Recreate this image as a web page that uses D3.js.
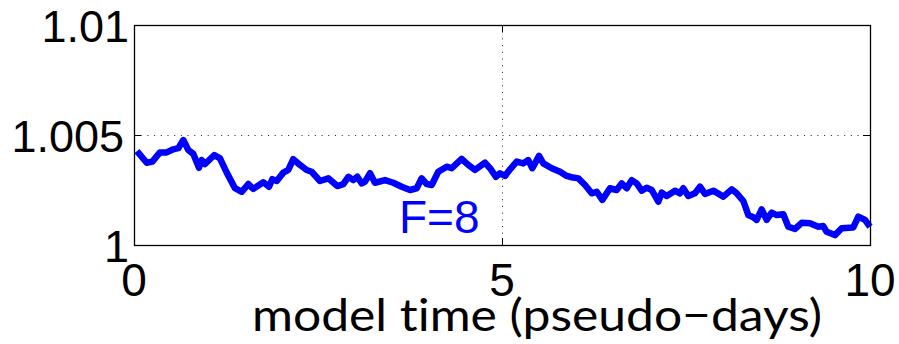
<!DOCTYPE html>
<html>
<head>
<meta charset="utf-8">
<script src="https://cdn.jsdelivr.net/npm/d3@7/dist/d3.min.js"></script>
<style>
  html, body { margin: 0; padding: 0; background: #fff; }
  svg { display: block; }
</style>
</head>
<body>
<svg id="chart" width="899" height="344"></svg>
<script>
// Model time (pseudo-days) and the normalised quantity for the F=8 run
const times = [
  0.04, 0.173, 0.249, 0.353, 0.444, 0.534, 0.602, 0.670, 0.738, 0.806,
  0.883, 0.920, 0.965, 1.091, 1.168, 1.260, 1.372, 1.463, 1.553, 1.621,
  1.757, 1.834, 1.879, 1.939, 2.029, 2.096, 2.164, 2.255, 2.346, 2.414,
  2.527, 2.640, 2.762, 2.844, 2.912, 2.980, 3.034, 3.094, 3.139, 3.207,
  3.274, 3.410, 3.523, 3.637, 3.750, 3.841, 3.909, 3.977, 4.045, 4.134,
  4.249, 4.317, 4.452, 4.542, 4.633, 4.769, 4.837, 4.918, 4.973, 5.041,
  5.109, 5.200, 5.289, 5.357, 5.412, 5.503, 5.561, 5.675, 5.788, 5.879,
  5.947, 6.037, 6.128, 6.219, 6.287, 6.363, 6.467, 6.558, 6.626, 6.694,
  6.762, 6.830, 6.898, 6.966, 7.034, 7.124, 7.170, 7.238, 7.351, 7.418,
  7.463, 7.531, 7.622, 7.690, 7.758, 7.871, 8.007, 8.121, 8.189, 8.279,
  8.347, 8.414, 8.460, 8.528, 8.596, 8.664, 8.732, 8.822, 8.890, 8.981,
  9.072, 9.185, 9.298, 9.365, 9.411, 9.524, 9.615, 9.773, 9.841, 9.932,
  10.0
];
const values = [
  1.00427, 1.00374, 1.00379, 1.00421, 1.00421, 1.00435, 1.00440, 1.00477, 1.00432, 1.00414,
  1.00351, 1.00386, 1.00368, 1.00409, 1.00394, 1.00329, 1.00258, 1.00242, 1.00277, 1.00255,
  1.00285, 1.00265, 1.00299, 1.00291, 1.00329, 1.00341, 1.00390, 1.00364, 1.00341, 1.00333,
  1.00291, 1.00303, 1.00268, 1.00277, 1.00310, 1.00295, 1.00310, 1.00280, 1.00288, 1.00326,
  1.00283, 1.00295, 1.00283, 1.00265, 1.00250, 1.00258, 1.00303, 1.00277, 1.00273, 1.00333,
  1.00356, 1.00349, 1.00391, 1.00364, 1.00341, 1.00374, 1.00349, 1.00310, 1.00326, 1.00314,
  1.00344, 1.00379, 1.00371, 1.00386, 1.00349, 1.00405, 1.00371, 1.00349, 1.00333, 1.00314,
  1.00308, 1.00303, 1.00273, 1.00235, 1.00242, 1.00205, 1.00258, 1.00250, 1.00280, 1.00258,
  1.00295, 1.00280, 1.00247, 1.00260, 1.00250, 1.00197, 1.00238, 1.00223, 1.00247, 1.00235,
  1.00258, 1.00223, 1.00235, 1.00265, 1.00232, 1.00247, 1.00220, 1.00253, 1.00235, 1.00200,
  1.00136, 1.00126, 1.00114, 1.00162, 1.00114, 1.00147, 1.00136, 1.00140, 1.00083, 1.00073,
  1.00101, 1.00099, 1.00083, 1.00086, 1.00060, 1.00045, 1.00076, 1.00080, 1.00129, 1.00114,
  1.00083
];
const xTicks = [0, 5, 10];
const xTickLabels = ["0", "5", "10"];
const yTicks = [1, 1.005, 1.01];
const yTickLabels = ["1", "1.005", "1.01"];
const seriesLabel = "F=8";
const xTitle = "model time (pseudo\u2212days)";

const svg = d3.select("#chart");
const plot = { left: 134, right: 870, top: 25, bottom: 245 };

const x = d3.scaleLinear().domain([0, 10]).range([plot.left, plot.right]);
const y = d3.scaleLinear().domain([1, 1.01]).range([plot.bottom, plot.top]);

const axisFont = "'Liberation Sans', Arial, Helvetica, sans-serif";

// dotted grid at interior ticks
const grid = svg.append("g").attr("stroke", "#222").attr("stroke-width", 1)
  .attr("stroke-dasharray", "1,5.7").attr("fill", "none");
grid.selectAll("line.gx").data(xTicks.slice(1, -1)).join("line")
  .attr("x1", d => x(d) + 0.5).attr("x2", d => x(d) + 0.5)
  .attr("y1", plot.top).attr("y2", plot.bottom);
grid.selectAll("line.gy").data(yTicks.slice(1, -1)).join("line")
  .attr("x1", plot.left).attr("x2", plot.right)
  .attr("y1", d => y(d) + 0.5).attr("y2", d => y(d) + 0.5);

// series line
const line = d3.line().x((d, i) => x(times[i])).y(d => y(d));
svg.append("path")
  .datum(values)
  .attr("d", line)
  .attr("fill", "none")
  .attr("stroke", "#0000ff")
  .attr("stroke-width", 6.5)
  .attr("stroke-linejoin", "round")
  .attr("stroke-linecap", "butt");

// axes with inward ticks on all four sides
const tickLen = 7;
function styleAxis(g) {
  g.select(".domain").remove();
  g.selectAll(".tick line").attr("stroke", "#000").attr("stroke-width", 1);
}
svg.append("g").attr("transform", `translate(0,${plot.bottom})`)
  .call(d3.axisBottom(x).tickValues(xTicks).tickSize(-tickLen).tickFormat(""))
  .call(styleAxis);
svg.append("g").attr("transform", `translate(0,${plot.top})`)
  .call(d3.axisTop(x).tickValues(xTicks).tickSize(-tickLen).tickFormat(""))
  .call(styleAxis);
svg.append("g").attr("transform", `translate(${plot.left},0)`)
  .call(d3.axisLeft(y).tickValues(yTicks).tickSize(-tickLen).tickFormat(""))
  .call(styleAxis);
svg.append("g").attr("transform", `translate(${plot.right},0)`)
  .call(d3.axisRight(y).tickValues(yTicks).tickSize(-tickLen).tickFormat(""))
  .call(styleAxis);

// frame
svg.append("rect")
  .attr("x", plot.left + 0.5).attr("y", plot.top + 0.5)
  .attr("width", plot.right - plot.left).attr("height", plot.bottom - plot.top)
  .attr("fill", "none").attr("stroke", "#000").attr("stroke-width", 1.3);

// tick labels
svg.append("g").selectAll("text").data(xTicks).join("text")
  .attr("x", d => x(d)).attr("y", plot.bottom + 51)
  .attr("text-anchor", "middle")
  .attr("font-family", axisFont).attr("font-size", 46).attr("fill", "#000")
  .text((d, i) => xTickLabels[i]);

svg.append("g").selectAll("text").data(yTicks).join("text")
  .attr("x", (d, i) => plot.left - 10 + (yTickLabels[i].endsWith("1") ? 5 : 0))
  .attr("y", d => y(d) + 17)
  .attr("text-anchor", "end")
  .attr("font-family", axisFont).attr("font-size", 45).attr("fill", "#000")
  .text((d, i) => yTickLabels[i]);

// series annotation
svg.append("text")
  .attr("x", x(3.6)).attr("y", y(1.00055))
  .attr("font-family", axisFont).attr("font-size", 46).attr("fill", "#0000ff")
  .text(seriesLabel);

// x-axis title
svg.append("text")
  .attr("x", 252).attr("y", 331)
  .attr("font-family", "Lato, 'Open Sans', sans-serif").attr("font-size", 45).attr("fill", "#000")
  .style("font-variant-ligatures", "none")
  .attr("textLength", 570).attr("lengthAdjust", "spacingAndGlyphs")
  .text(xTitle);
</script>
</body>
</html>
